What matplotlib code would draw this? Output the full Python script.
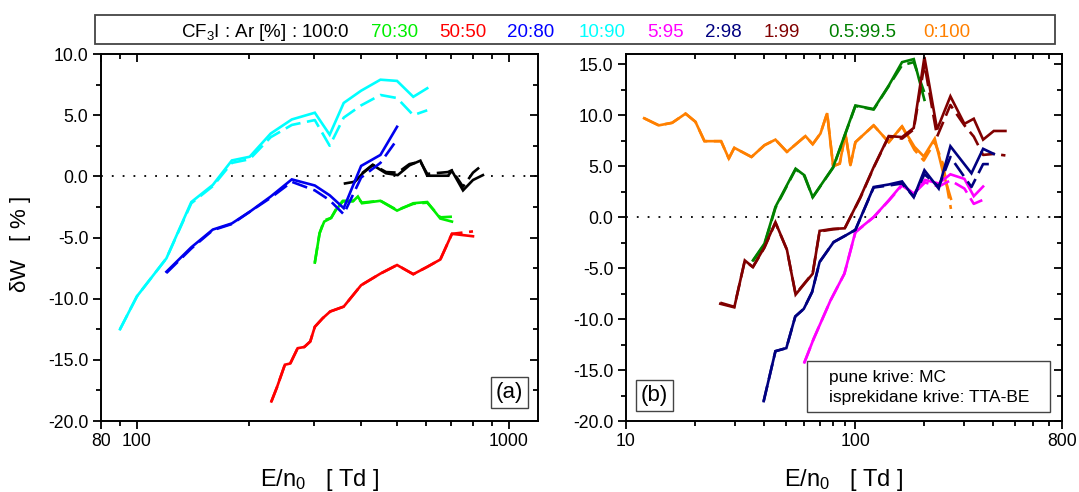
import matplotlib
matplotlib.use('Agg')
import matplotlib.pyplot as plt
from matplotlib.patches import Rectangle
from matplotlib.ticker import FixedLocator, NullFormatter

plt.rcParams['font.family'] = ['Liberation Sans', 'DejaVu Sans']
plt.rcParams['mathtext.default'] = 'regular'

# ---------- panel (a) data, E/n0 in Td, deltaW in % ----------
# 10:90 (cyan)
cy_x = [90, 100, 120, 140, 160, 180, 201, 229, 261, 301, 330, 360, 401, 452, 501, 554, 604]
cy_mc = [-12.5, -9.8, -6.7, -2.1, -0.7, 1.3, 1.6, 3.5, 4.65, 5.2, 3.4, 6.0, 7.0, 7.9, 7.8, 6.5, 7.2]
cy_tta = [-12.5, -9.8, -6.7, -2.2, -0.8, 1.1, 1.4, 3.2, 4.2, 4.6, 2.5, 4.8, 5.8, 6.65, 6.4, 5.0, 5.4]
# 20:80 (blue)
bl_x = [120, 140, 160, 180, 201, 229, 261, 301, 330, 360, 401, 452, 501]
bl_mc = [-7.8, -5.8, -4.35, -3.85, -2.9, -1.65, -0.25, -0.75, -1.55, -2.6, 0.85, 1.75, 4.05]
bl_tta = [-7.9, -5.9, -4.4, -3.9, -2.9, -1.75, -0.45, -1.15, -1.95, -3.1, -0.1, 1.1, 3.0]
# 100:0 (black)
bk_x_mc = [384, 405, 431, 468, 503, 541, 579, 604, 687, 704, 754, 802, 853]
bk_mc = [-0.5, 0.25, 0.92, 0.25, 0.1, 0.9, 1.28, 0.05, 0.05, 0.45, -1.15, -0.3, 0.1]
bk_x_tta = [360, 384, 405, 431, 468, 503, 541, 579, 604, 687, 704, 754, 802, 844]
bk_tta = [-0.6, -0.45, 0.3, 0.95, 0.35, 0.3, 1.0, 1.2, 0.2, 0.35, 0.5, -0.85, 0.3, 0.85]
# 70:30 (lime)
lm_x = [301, 310, 319, 333, 343, 358, 381, 393, 403, 452, 501, 554, 604, 655, 704]
lm_mc = [-7.05, -4.65, -3.7, -3.4, -2.75, -2.05, -2.05, -1.65, -2.2, -2.0, -2.8, -2.2, -2.1, -3.45, -3.7]
lm_tta = [-7.05, -4.65, -3.6, -3.4, -2.7, -2.0, -2.0, -1.8, -2.15, -2.0, -2.75, -2.25, -2.15, -3.35, -3.3]
# 50:50 (red)
rd_x = [230, 238, 250, 258.5, 270.6, 282, 292.6, 301, 316, 331, 360, 401, 452, 501, 554, 604, 655, 704, 802]
rd_mc = [-18.4, -17.25, -15.4, -15.3, -14.05, -13.95, -13.5, -12.3, -11.6, -11.05, -10.65, -8.9, -7.95,
         -7.25, -8.0, -7.4, -6.8, -4.7, -4.9]
rd_tta = [-18.4, -17.25, -15.4, -15.3, -14.05, -13.95, -13.5, -12.3, -11.6, -11.05, -10.65, -8.9, -7.95,
          -7.25, -8.0, -7.4, -6.8, -4.7, -4.5]

# ---------- panel (b) data ----------
# 0:100 (orange)
or_x = [12.0, 13.9, 15.9, 18.2, 20.1, 22.0, 26.0, 28.1, 29.7, 35.3, 40.2, 44.9, 50.4, 60.7, 65.3, 70.6, 75.5,
        80.2, 85.7, 90.7, 95.4, 100.3, 120.5, 140.2, 160.3, 181.5, 199.4, 222.7, 242, 262]
or_mc = [9.7, 9.0, 9.25, 10.15, 9.35, 7.45, 7.45, 5.75, 6.8, 5.9, 7.05, 7.6, 6.4, 7.95, 7.15, 8.2, 10.2,
         5.0, 5.25, 8.2, 5.1, 7.35, 9.0, 7.35, 8.9, 6.9, 5.95, 7.7, 4.4, 1.8]
or_tta = [9.7, 9.0, 9.25, 10.15, 9.35, 7.45, 7.45, 5.75, 6.8, 5.9, 7.05, 7.6, 6.4, 7.95, 7.15, 8.2, 10.2,
          5.0, 5.25, 8.2, 5.1, 7.35, 9.0, 7.35, 8.9, 6.6, 5.55, 7.35, 5.2, 0.8]
# 1:99 (dark red)
dr_x = [25.8, 29.7, 33.0, 35.8, 40.2, 44.9, 50.4, 55.0, 65.3, 70.0, 80.2, 90.1, 105.4, 120.5, 140.2, 160.3,
        180.3, 200.7, 228, 260.6, 300, 329.6, 362, 403, 453]
dr_mc = [-8.5, -8.85, -4.25, -4.9, -2.95, -0.5, -3.2, -7.6, -5.55, -1.35, -1.15, -1.1, 1.95, 4.9, 7.95, 7.85,
         8.75, 15.7, 8.6, 11.85, 9.15, 9.65, 7.6, 8.45, 8.45]
dr_tta = [-8.4, -8.8, -4.3, -4.9, -3.0, -0.55, -3.2, -7.55, -5.5, -1.4, -1.2, -1.1, 1.9, 4.85, 7.9, 7.7,
          8.6, 15.0, 7.9, 11.0, 9.0, 7.9, 6.1, 6.2, 6.05]
# 0.5:99.5 (green)
gr_x = [35.8, 40.2, 44.9, 55.0, 60.1, 65.3, 80.2, 100.3, 120.5, 140.2, 160.3, 180.3, 200.7]
gr_mc = [-4.25, -2.6, 1.0, 4.75, 4.1, 1.95, 4.9, 10.95, 10.6, 12.9, 15.2, 15.5, 11.5]
gr_tta = [-4.3, -2.7, 0.9, 4.7, 4.0, 1.95, 4.85, 10.9, 10.55, 12.85, 14.9, 15.2, 12.2]
# 2:98 (navy)
nv_x = [39.9, 44.9, 50.1, 54.8, 59.7, 64.9, 70.0, 80.6, 90.1, 100.3, 120.5, 140.2, 160.3, 180.3, 200.7,
        231.7, 260.6, 322, 362, 403]
nv_mc = [-18.05, -13.15, -12.85, -9.75, -9.0, -7.35, -4.4, -2.45, -1.85, -1.25, 2.95, 3.2, 3.5, 1.95, 4.6,
         2.8, 6.95, 4.3, 6.7, 6.2]
nv_tta = [-18.05, -13.15, -12.85, -9.75, -9.0, -7.35, -4.4, -2.45, -1.85, -1.25, 2.9, 3.1, 3.3, 2.0, 4.2,
          3.0, 5.9, 2.95, 5.2, 5.2]
# 5:95 (magenta)
mg_x = [60.1, 65.9, 78.0, 89.8, 100.3, 120.5, 140.2, 160.3, 180.3, 202, 231.7, 260.6, 300, 329.6, 362]
mg_mc = [-14.25, -11.95, -8.2, -5.55, -1.45, 0.0, 1.65, 3.2, 2.3, 3.65, 3.3, 4.2, 3.75, 2.05, 3.0]
mg_tta = [-14.25, -11.95, -8.2, -5.55, -1.5, 0.0, 1.6, 3.1, 2.3, 3.4, 3.0, 3.6, 2.8, 1.3, 1.7]

# legend header
mix_labels = ['70:30', '50:50', '20:80', '10:90', '5:95', '2:98', '1:99', '0.5:99.5', '0:100']
mix_colors = ['#00ee00', '#ff0000', '#0000ff', '#00ffff', '#ff00ff', '#000080', '#800000', '#008000', '#ff8000']
mix_xpix = [371, 439.6, 507, 578.7, 647.3, 705, 764, 828, 923]

W, H = 1079, 492
fig = plt.figure(figsize=(W / 100, H / 100), dpi=100)

LW = 1.9
DASH = (6, 2.5)


def add_axes_px(x0, y0, x1, y1):
    return fig.add_axes([x0 / W, 1 - y1 / H, (x1 - x0) / W, (y1 - y0) / H])


def style_axes(ax, xmajor, xlabels, xminor, ylim, yticks):
    ax.set_xscale('log')
    ax.set_ylim(*ylim)
    ax.xaxis.set_major_locator(FixedLocator(xmajor))
    ax.xaxis.set_minor_locator(FixedLocator(xminor))
    ax.set_xticklabels(xlabels)
    ax.xaxis.set_minor_formatter(NullFormatter())
    ax.set_yticks(yticks)
    ax.set_yticklabels(['%.1f' % v for v in yticks])
    ax.yaxis.set_minor_locator(FixedLocator([v + 2.5 for v in yticks]))
    for s in ax.spines.values():
        s.set_linewidth(1.4)
    ax.tick_params(which='major', direction='out', length=6, width=1.3, labelsize=12.7, pad=3)
    ax.tick_params(which='minor', direction='out', length=3.5, width=1.3)
    ax.tick_params(top=False, right=False, which='both')
    # mirrored inward ticks on top and right
    tw = fig.add_axes(ax.get_position(), sharex=ax, sharey=ax, frameon=False)
    tw.tick_params(which='both', direction='in', width=1.3, top=True, right=True, bottom=False, left=False,
                   labelbottom=False, labelleft=False)
    tw.tick_params(which='major', length=6)
    tw.tick_params(which='minor', length=3.5)
    tw.patch.set_visible(False)
    ax.axhline(0, color='black', lw=1.3, ls=(0, (1, 5)), zorder=1)


def pair(ax, x, mc, tta, color, x_tta=None):
    ax.plot(x, mc, color=color, lw=LW, solid_joinstyle='miter')
    ax.plot(x if x_tta is None else x_tta, tta, color=color, lw=LW, ls=(0, DASH))


# ---------- (a) ----------
ax1 = add_axes_px(101, 54, 538, 421)
ax1.set_xlim(80, 1200)
pair(ax1, rd_x, rd_mc, rd_tta, '#ff0000')
pair(ax1, lm_x, lm_mc, lm_tta, '#00ee00')
pair(ax1, cy_x, cy_mc, cy_tta, '#00ffff')
pair(ax1, bk_x_mc, bk_mc, bk_tta, 'black', x_tta=bk_x_tta)
pair(ax1, bl_x, bl_mc, bl_tta, '#0000ee')
style_axes(ax1, [80, 100, 1000], ['80', '100', '1000'],
           [90, 200, 300, 400, 500, 600, 700, 800, 900], (-20, 10), [-20, -15, -10, -5, 0, 5, 10])
ax1.set_xlim(80, 1200)
ax1.set_ylabel(r'$\delta$W   [ % ]', fontsize=16)
ax1.set_xlabel('E/n$_0$   [ Td ]', fontsize=17)
ax1.xaxis.set_label_coords(0.5, -0.126)
ax1.yaxis.set_label_coords(-0.155, 0.48)
ax1.text(0.934, 0.078, '(a)', transform=ax1.transAxes, fontsize=16, ha='center', va='center',
         bbox=dict(boxstyle='square,pad=0.22', fc='white', ec='#444444', lw=1))

# ---------- (b) ----------
ax2 = add_axes_px(626, 54, 1062, 421)
ax2.set_xlim(10, 800)
pair(ax2, or_x, or_mc, or_tta, '#ff8000')
pair(ax2, gr_x, gr_mc, gr_tta, '#008000')
pair(ax2, dr_x, dr_mc, dr_tta, '#800000')
pair(ax2, mg_x, mg_mc, mg_tta, '#ff00ff')
pair(ax2, nv_x, nv_mc, nv_tta, '#000080')
style_axes(ax2, [10, 100, 800], ['10', '100', '800'],
           [20, 30, 40, 50, 60, 70, 80, 90, 200, 300, 400, 500, 600, 700], (-20, 16),
           [-20, -15, -10, -5, 0, 5, 10, 15])
ax2.set_xlim(10, 800)
ax2.set_ylim(-20, 16)
ax2.set_xlabel('E/n$_0$   [ Td ]', fontsize=17)
ax2.xaxis.set_label_coords(0.5, -0.126)
ax2.text(0.065, 0.07, '(b)', transform=ax2.transAxes, fontsize=16, ha='center', va='center',
         bbox=dict(boxstyle='square,pad=0.22', fc='white', ec='#444444', lw=1))
ax2.add_patch(Rectangle((0.415, 0.0245), 0.5575, 0.139, transform=ax2.transAxes, fc='white',
                        ec='#444444', lw=1, zorder=5))
ax2.text(0.4656, 0.106, 'pune krive: MC', transform=ax2.transAxes, fontsize=12.5, va='baseline', zorder=6)
ax2.text(0.4656, 0.052, 'isprekidane krive: TTA-BE', transform=ax2.transAxes, fontsize=12.5,
         va='baseline', zorder=6)

# ---------- header legend ----------
fig.patches.append(Rectangle((94.7 / W, 1 - 44 / H), 960.3 / W, 29.3 / H, transform=fig.transFigure,
                             fc='white', ec='#444444', lw=1.3))
ybase = 1 - 36.7 / H
fig.text(180.7 / W, ybase, 'CF$_3$I : Ar [%] : 100:0', fontsize=13.5, va='baseline', color='black')
for lab, col, xp in zip(mix_labels, mix_colors, mix_xpix):
    fig.text(xp / W, ybase, lab, fontsize=13.5, va='baseline', color=col)

fig.savefig('out.png', dpi=100)
